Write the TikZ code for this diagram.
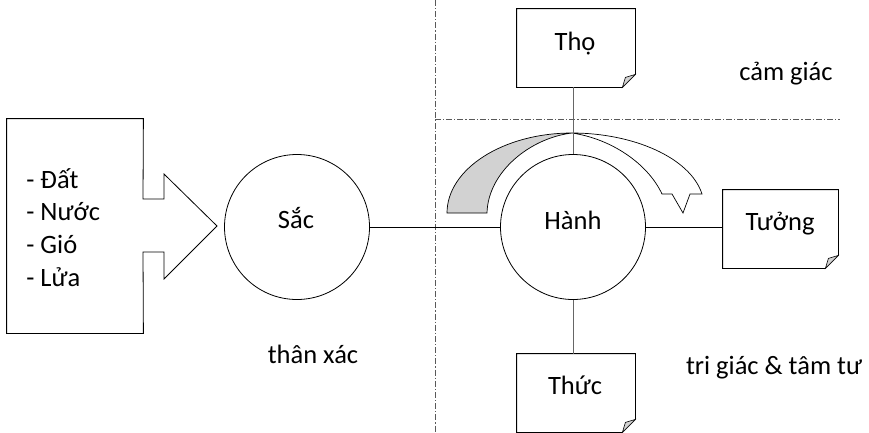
\documentclass[tikz,border=0pt]{standalone}
\usepackage{fontspec}
\setmainfont{Carlito}
\newcommand{\foldbox}[1]{%
  \draw[boxline] (#1.north west) -- (#1.north east) -- ([yshift=13pt]#1.south east)
    -- ([xshift=-13pt]#1.south east) -- (#1.south west) -- cycle;
  \filldraw[foldfill] ([xshift=-13pt]#1.south east) -- ([xshift=-10pt,yshift=10pt]#1.south east)
    -- ([yshift=13pt]#1.south east) -- cycle;}
\begin{document}
\begin{tikzpicture}[x=1pt,y=-1pt,line width=0.8pt,
  every node/.style={font=\fontsize{26.5}{32}\selectfont, inner sep=0pt},
  circ/.style={circle, draw, minimum size=145pt},
  boxline/.style={draw=black, line width=0.8pt},
  foldfill/.style={fill=gray!35, draw=black, line width=0.6pt},
  graylink/.style={draw=gray!80!black, line width=1pt},
  blacklink/.style={draw=black, line width=0.8pt},
  dashdot/.style={draw=gray!70!black, line width=0.6pt, dash pattern=on 6pt off 2pt on 1.2pt off 2pt},
  lbl/.style={anchor=base}]
\useasboundingbox (0,0) rectangle (869,432);

% separator lines
\coordinate (vtop) at (435,0);
\coordinate (vbot) at (435,432);
\coordinate (hleft) at (435,119);
\coordinate (hright) at (840,119);
\draw[dashdot] (vtop) -- (vbot);
\draw[dashdot] (hleft) -- (hright);

% left block arrow
\node[minimum width=136pt, minimum height=214pt] (elem) at (75,226) {};
\draw[boxline] (elem.north west) -- (elem.north east) -- (143,199) -- (164,199) -- (164,174)
  -- (217,226) -- (164,279) -- (164,252) -- (143,252) -- (elem.south east) -- (elem.south west) -- cycle;
\node[anchor=base west] (l1) at (26,188) {- Đất};
\node[anchor=base west] (l2) at (26,220.5) {- Nước};
\node[anchor=base west] (l3) at (26,253) {- Gió};
\node[anchor=base west] (l4) at (26,286) {- Lửa};

% circles
\node[circ] (sac) at (297,227) {};
\node[lbl] (sacT) at (296,228) {Sắc};
\node[circ] (hanh) at (573,227) {};
\node[lbl] (hanhT) at (573,229) {Hành};

% curved arrow
\filldraw[fill=gray!35, draw=black, line width=0.7pt]
  (447,213) .. controls (447,169) and (503,133) .. (572,133)
  .. controls (530,138) and (488,172) .. (487,213) -- cycle;
\filldraw[fill=white, draw=black, line width=0.7pt]
  (572,133) .. controls (632,133) and (690,157) .. (702,194)
  -- (690,194) -- (683,213) -- (672,194) -- (662,194)
  .. controls (648,164) and (612,139) .. (572,133) -- cycle;

% folded boxes
\node[minimum width=118pt, minimum height=78pt] (tho) at (576,48) {};
\foldbox{tho}
\node[lbl] (thoT) at (575,50) {Thọ};
\node[minimum width=115pt, minimum height=78pt] (tuong) at (780.5,229) {};
\foldbox{tuong}
\node[lbl] (tuongT) at (780,230) {Tưởng};
\node[minimum width=118pt, minimum height=78pt] (thuc) at (576,393) {};
\foldbox{thuc}
\node[lbl] (thucT) at (575,394) {Thức};

% connectors
\draw[blacklink] (sac.east) -- (hanh.west);
\draw[blacklink] (hanh.east) -- (hanh.east -| tuong.west);
\draw[graylink] (hanh.north) -- (hanh.north |- tho.south);
\draw[graylink] (hanh.south) -- (hanh.south |- thuc.north);

% labels
\node[lbl] (camgiac) at (786,80) {cảm giác};
\node[lbl] (thanxac) at (313,363) {thân xác};
\node[lbl] (trigiac) at (774,374) {tri giác \& tâm tư};
\end{tikzpicture}
\end{document}
